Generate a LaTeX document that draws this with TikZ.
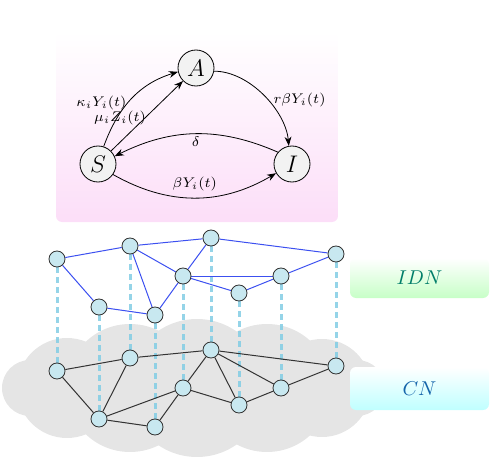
\documentclass[tikz,border=0pt]{standalone}
\usepackage{tikz}
\usetikzlibrary{arrows.meta}
\usetikzlibrary{backgrounds}
\definecolor{nodeblue}{RGB}{200,232,240}
\definecolor{linkblue}{RGB}{130,205,228}
\definecolor{idnedge}{RGB}{60,80,240}
\definecolor{idntext}{RGB}{0,125,105}
\definecolor{cntext}{RGB}{20,100,170}
\definecolor{boxpink}{RGB}{252,222,248}
\tikzstyle{comp} = [circle, draw, fill=gray!10, minimum size=18pt,
    inner sep=0pt, font=\large]
\tikzstyle{vert} = [circle, draw=black!80, fill=nodeblue,
    minimum size=8pt, inner sep=0pt, line width=0.4pt]
\tikzstyle{vlink} = [line width=1.5pt, draw=linkblue, opacity=0.85,
    dash pattern=on 3pt off 2pt]
\tikzstyle{netbox} = [rounded corners=3pt, minimum width=69.5pt,
    minimum height=20pt]
\tikzset{>={Stealth[length=1.6mm,width=1.2mm]}}

\begin{document}
\begin{tikzpicture}[x=0.5pt,y=-0.5pt]
    \useasboundingbox (0,0) rectangle (494,466);
    %model box
    \path[rounded corners=3pt, top color=white, bottom color=boxpink]
        (56,32) rectangle (338,222);
    \node[comp] (A) at (196,68) {$A$};
    \node[comp] (S) at (98,164) {$S$};
    \node[comp] (I) at (292,164) {$I$};
    \draw[->] (S.72) to[out=70,in=197] node[left, font=\scriptsize, pos=0.3, xshift=7.5pt, yshift=6.5pt] {$\kappa_i Y_i(t)$} (A.192);
    \draw[->] (S.45) -- node[left, font=\scriptsize, xshift=3pt, yshift=-1pt] {$\mu_i Z_i(t)$} (A.225);
    \draw[->] (A.-10) to[out=0,in=95,looseness=0.85] node[right, font=\scriptsize, pos=0.55, xshift=-0.5pt] {$r\beta Y_i(t)$} (I.100);
    \draw[->] (I.140) to[bend right=25] node[below, font=\scriptsize, yshift=2pt] {$\delta$} (S.25);
    \draw[->] (S.-35) to[bend right=30] node[above, font=\scriptsize] {$\beta Y_i(t)$} (I.-150);
    %layer labels
    \node[netbox, top color=white, bottom color=green!22, text=idntext] (idn) at (419.5,278) {$IDN$};
    \node[netbox, top color=white, bottom color=cyan!25, text=cntext, minimum height=21.5pt] (cn) at (419.5,388.5) {$CN$};
    %both networks, same x
    \foreach \n/\x/\y in {1/57/259, 2/130/246, 3/211/238, 4/336/254, 5/183/276,
        6/281/276, 7/239/293, 8/99/307, 9/155/315}
    {\node[vert] (u\n) at (\x,\y) {};
    \node[vert] (l\n) at (\x,\y+112) {};}
    \begin{scope}[on background layer]
        %cloud from puffs
        \foreach \x/\r in {30/28, 67/50, 130/64, 197/69, 267/64, 322/49, 357/28}
        {\fill[gray!20] (\x,388) circle [radius=\r];}
        \foreach \n in {1,...,9}
        {\draw[vlink] (u\n) -- (l\n);}
        \foreach \from/\to in {1/2, 2/3, 3/4, 1/8, 8/9, 2/9, 2/5, 5/3, 5/9, 5/6, 5/7, 7/6, 6/4}
        {\draw[idnedge, line width=0.5pt] (u\from) -- (u\to);}
        \foreach \from/\to in {1/2, 2/3, 3/4, 1/8, 2/8, 8/5, 8/9, 9/5, 5/3, 5/7, 3/7, 3/6, 7/6, 6/4}
        {\draw[black!80, line width=0.5pt] (l\from) -- (l\to);}
    \end{scope}
\end{tikzpicture}
\end{document}
